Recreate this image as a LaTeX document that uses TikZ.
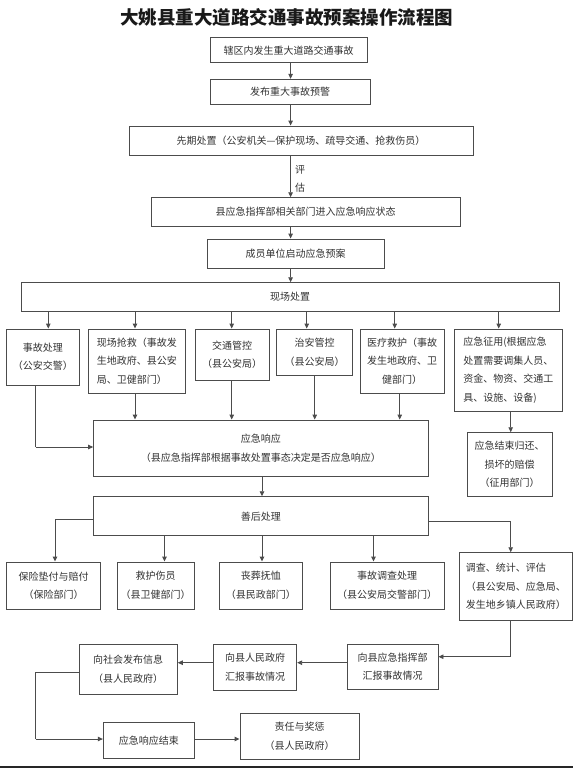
\documentclass[tikz,border=0pt]{standalone}
\usepackage{fontspec}
\newfontfamily\cjk{Noto Sans CJK SC}
\usetikzlibrary{arrows.meta}
\begin{document}
\begin{tikzpicture}[x=1pt,y=-1pt,
  box/.style={draw=black!70,line width=0.9pt,text=black!80,inner sep=0pt,
    font=\cjk\fontsize{10}{18.5}\selectfont,align=center},
  lbox/.style={box,align=left},
  arr/.style={draw=black!70,line width=0.9pt,-{Triangle[length=5pt,width=4.5pt]}},
  ln/.style={draw=black!70,line width=0.9pt},
  lbl/.style={text=black!80,font=\cjk\fontsize{10}{17.7}\selectfont,align=center,inner sep=0pt}]
\useasboundingbox (0,0) rectangle (573,768);
\fill[white] (0,0) rectangle (573,768);

\node[font=\cjk\fontsize{18.5}{20}\selectfont\bfseries,text=black!90,inner sep=0pt] (title) at (286.8,17.5) {大姚县重大道路交通事故预案操作流程图};

\node[box,minimum width=157pt,minimum height=25pt] (b1) at (288.5,50.2) {辖区内发生重大道路交通事故};
\node[box,minimum width=160pt,minimum height=25pt] (b2) at (290,91.8) {发布重大事故预警};
\node[box,minimum width=344pt,minimum height=29pt] (b3) at (301,140.5) {先期处置（公安机关—保护现场、疏导交通、抢救伤员）};
\node[box,minimum width=309pt,minimum height=28.3pt] (b4) at (305.5,211.85) {县应急指挥部相关部门进入应急响应状态};
\node[box,minimum width=177pt,minimum height=29.3pt] (b5) at (295.5,253.65) {成员单位启动应急预案};
\node[box,minimum width=538pt,minimum height=28.3pt] (b6) at (290,296.85) {现场处置};

\coordinate (mx) at (290.6,0);
\draw[arr] (b1.south -| mx) -- (b2.north -| mx);
\draw[arr] (b2.south -| mx) -- (b3.north -| mx);
\draw[arr] (b3.south -| mx) -- (b4.north -| mx);
\node[lbl] (pg) at (300,179) {评\\估};
\draw[arr] (b4.south -| mx) -- (b5.north -| mx);
\draw[arr] (b5.south -| mx) -- (b6.north -| mx);

\node[box,minimum width=72.3pt,minimum height=56pt] (c1) at (42.85,357) {事故处理\\（公安交警）};
\node[lbox,minimum width=97.7pt,minimum height=64pt] (c2) at (136.85,361) {现场抢救（事故发\\生地政府、县公安\\局、卫健部门）};
\node[box,minimum width=74.3pt,minimum height=51pt] (c3) at (232.15,354.5) {交通管控\\（县公安局）};
\node[box,minimum width=76pt,minimum height=46.7pt] (c4) at (314.7,352.35) {治安管控\\（县公安局）};
\node[box,minimum width=84pt,minimum height=64pt] (c5) at (402,361) {医疗救护（事故\\发生地政府、卫\\健部门）};
\node[lbox,minimum width=107.3pt,minimum height=82.7pt] (c6) at (508.35,370.35) {应急征用(根据应急\\处置需要调集人员、\\资金、物资、交通工\\具、设施、设备)};

\draw[arr] ([xshift=5.45pt]c1.north |- b6.south) -- ([xshift=5.45pt]c1.north);
\draw[arr] ([xshift=-1.85pt]c2.north |- b6.south) -- ([xshift=-1.85pt]c2.north);
\draw[arr] ([xshift=-0.45pt]c3.north |- b6.south) -- ([xshift=-0.45pt]c3.north);
\draw[arr] ([xshift=-8pt]c4.north |- b6.south) -- ([xshift=-8pt]c4.north);
\draw[arr] ([xshift=-7.3pt]c5.north |- b6.south) -- ([xshift=-7.3pt]c5.north);
\draw[arr] ([xshift=-9.65pt]c6.north |- b6.south) -- ([xshift=-9.65pt]c6.north);

\node[box,minimum width=334.4pt,minimum height=56pt] (d1) at (260.8,448) {应急响应\\（县应急指挥部根据事故处置事态决定是否应急响应）};
\node[box,minimum width=84.7pt,minimum height=64pt] (d2) at (509.65,464.7) {应急结束归还、\\损坏的赔偿\\（征用部门）};

\coordinate (c1d) at (35.7,447);
\draw[ln] (c1.south -| c1d) -- (c1d);
\draw[arr] (c1d) -- (d1.west |- c1d);
\draw[arr] ([xshift=-1.85pt]c2.south) -- ([xshift=-1.85pt]c2.south |- d1.north);
\draw[arr] ([xshift=-0.45pt]c3.south) -- ([xshift=-0.45pt]c3.south |- d1.north);
\draw[arr] (c4.south) -- (c4.south |- d1.north);
\draw[arr] ([xshift=-2.3pt]c5.south) -- ([xshift=-2.3pt]c5.south |- d1.north);
\draw[arr] ([xshift=2.35pt]c6.south) -- ([xshift=2.35pt]c6.south |- d2.north);

\node[box,minimum width=334.4pt,minimum height=39pt] (e1) at (260.8,516.2) {善后处理};
\draw[arr] ([xshift=1.2pt]d1.south) -- ([xshift=1.2pt]d1.south |- e1.north);

\node[box,minimum width=93.9pt,minimum height=47pt] (f1) at (53.55,585.5) {保险垫付与赔付\\（保险部门）};
\node[box,minimum width=77pt,minimum height=47pt] (f2) at (155.5,585.5) {救护伤员\\（县卫健部门）};
\node[box,minimum width=83.6pt,minimum height=47pt] (f3) at (260.8,585.5) {丧葬抚恤\\（县民政部门）};
\node[box,minimum width=114pt,minimum height=47pt] (f4) at (387,585.5) {事故调查处理\\（县公安局交警部门）};
\node[lbox,minimum width=112.3pt,minimum height=67.3pt] (f5) at (515.85,586.35) {调查、统计、评估\\（县公安局、应急局、\\发生地乡镇人民政府）};

\coordinate (el) at (55,519);
\draw[ln] (e1.west |- el) -- (el);
\draw[arr] (el) -- (el |- f1.north);
\draw[arr] ([xshift=9pt]f2.north |- e1.south) -- ([xshift=9pt]f2.north);
\draw[arr] ([xshift=1.2pt]e1.south) -- ([xshift=1.2pt]e1.south |- f3.north);
\draw[arr] ([xshift=-13.5pt]f4.north |- e1.south) -- ([xshift=-13.5pt]f4.north);
\coordinate (er) at (510.7,521.7);
\draw[ln] (e1.east |- er) -- (er);
\draw[arr] (er) -- (er |- f5.north);

\node[box,minimum width=98.3pt,minimum height=50pt] (g1) at (128.15,669) {向社会发布信息\\（县人民政府）};
\node[box,minimum width=83.4pt,minimum height=46.7pt] (g2) at (255,667.35) {向县人民政府\\汇报事故情况};
\node[box,minimum width=90.7pt,minimum height=45pt] (g3) at (392.65,666.5) {向县应急指挥部\\汇报事故情况};

\coordinate (fd) at (510.7,656.7);
\draw[ln] (f5.south -| fd) -- (fd);
\draw[arr] (fd) -- (g3.east |- fd);
\coordinate (gy) at (0,662.7);
\draw[arr] (g3.west |- gy) -- (g2.east |- gy);
\draw[arr] (g2.west |- gy) -- (g1.east |- gy);

\node[box,minimum width=91pt,minimum height=35.6pt] (h1) at (148.8,740.5) {应急响应结束};
\node[box,minimum width=119.3pt,minimum height=45.7pt] (h2) at (299.65,736.15) {责任与奖惩\\（县人民政府）};

\coordinate (ga) at (35.7,672.3);
\coordinate (gb) at (35.7,739);
\draw[ln] (g1.west |- ga) -- (ga) -- (gb);
\draw[arr] (gb) -- (h1.west |- gb);
\coordinate (hy) at (0,739);
\draw[arr] (h1.east |- hy) -- (h2.west |- hy);

\draw[line width=2pt,black!85] (0,766.8) -- (573,766.8);
\end{tikzpicture}
\end{document}
